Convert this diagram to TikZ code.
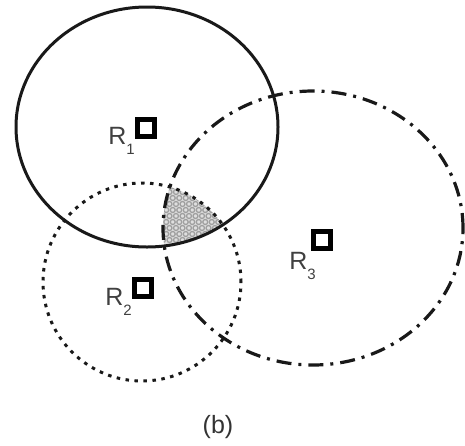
\documentclass[tikz,border=0pt]{standalone}
\usepackage{fontspec}
\setmainfont{Liberation Sans}
\usetikzlibrary{positioning}
\tikzset{
    rangeline/.style={line width=3pt, black!90},
    rangedot/.style={
        rangeline,
        dash pattern=on 3.5pt off 5.5pt
    },
    rangedashdot/.style={
        rangeline,
        line width=3.2pt,
        dash pattern=on 15pt off 7pt on 3pt off 7pt
    },
    reader/.style={
        draw,
        rectangle,
        line width=5pt,
        inner sep=0pt,
        minimum size=17pt,
        fill=white
    },
    rlabel/.style={
        inner sep=0pt,
        text=black!75,
        font=\fontsize{25}{30}\selectfont
    }
}
\newcommand{\rsub}[1]{\raisebox{-0.42em}{\fontsize{15}{15}\selectfont #1}}
\begin{document}
\begin{tikzpicture}[x=1pt,y=-1pt]
        \useasboundingbox (0,0) rectangle (465,445);
        % overlap of the three ranges
        \begin{scope}
            \clip (147,127) ellipse [x radius=131pt, y radius=120pt];
            \clip (142,282) circle [radius=99pt];
            \clip (313,228) ellipse [x radius=150pt, y radius=137pt];
            \fill[gray!25] (150,180) rectangle (240,250);
            \foreach \i in {0,...,10}{
                \foreach \j in {0,...,14}{
                    \draw[gray!75, line width=1.3pt]
                        ({150+6.5*\j+3.25*mod(\i,2)},{180+6*\i}) circle [radius=2.5pt];
                }
            }
        \end{scope}
        \draw[rangeline] (147,127) ellipse [x radius=131pt, y radius=120pt];
        \draw[rangedot] (142,282) circle [radius=99pt];
        \draw[rangedashdot] (313,228) ellipse [x radius=150pt, y radius=137pt];
        \node[reader] (r1) at (146,128) {};
        \node[reader] (r2) at (143,288) {};
        \node[reader] (r3) at (322,240) {};
        \node[rlabel, below left=-12pt and 0pt of r1] (l1) {R\rsub{1}};
        \node[rlabel, below left=-11pt and 0pt of r2] (l2) {R\rsub{2}};
        \node[rlabel, below left=1pt and -5pt of r3] (l3) {R\rsub{3}};
        \node[rlabel, text=black!80] (cap) at (218,427) {(b)};
    \end{tikzpicture}
\end{document}
